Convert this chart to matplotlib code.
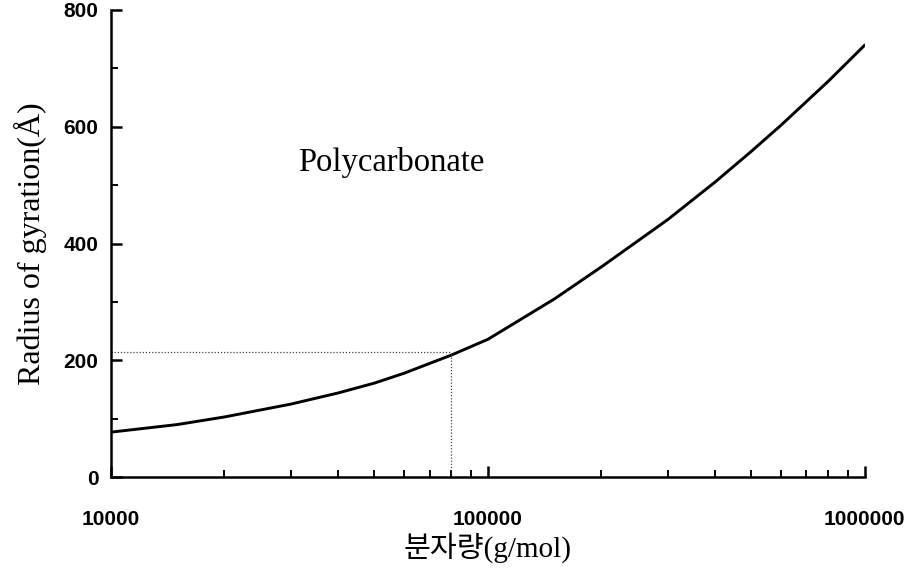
import matplotlib
matplotlib.use('Agg')
import matplotlib.pyplot as plt
from matplotlib.ticker import FixedLocator, LogLocator, NullFormatter, MultipleLocator

# Data
mw = [10000, 15000, 20000, 30000, 40000, 50000, 60000, 80000, 100000,
      150000, 200000, 300000, 400000, 500000, 600000, 800000, 1000000]
rg = [77, 90, 103, 125, 144, 161, 178, 209, 236,
      305, 360, 441, 505, 558, 603, 678, 740]

marker_mw = 80000
marker_rg = 215

x_ticks = [10000, 100000, 1000000]
x_tick_labels = ['10000', '100000', '1000000']
y_ticks = [0, 200, 400, 600, 800]

fig = plt.figure(figsize=(9.23, 5.70), dpi=100)
ax = fig.add_axes([0.1203, 0.163, 0.8167, 0.8195])

ax.plot(mw, rg, color='black', linewidth=2.1, solid_capstyle='round',
        solid_joinstyle='round')

# dotted guide lines to the marked point
ax.plot([mw[0], marker_mw], [marker_rg, marker_rg], color='#444444',
        linestyle=(0, (1, 1.5)), linewidth=0.9)
ax.plot([marker_mw, marker_mw], [0, marker_rg], color='#444444',
        linestyle=(0, (1, 1.5)), linewidth=0.9)

ax.set_xscale('log')
ax.set_xlim(10000, 1000000)
ax.set_ylim(0, 800)

ax.xaxis.set_major_locator(FixedLocator(x_ticks))
ax.set_xticklabels(x_tick_labels)
ax.xaxis.set_minor_locator(LogLocator(base=10, subs=range(2, 10)))
ax.xaxis.set_minor_formatter(NullFormatter())
ax.yaxis.set_major_locator(FixedLocator(y_ticks))
ax.yaxis.set_minor_locator(MultipleLocator(100))

for side in ['top', 'right']:
    ax.spines[side].set_visible(False)
for side in ['left', 'bottom']:
    ax.spines[side].set_linewidth(1.8)

ax.tick_params(axis='both', which='major', direction='in', length=8, width=1.8)
ax.tick_params(axis='both', which='minor', direction='in', length=5, width=1.4)
ax.tick_params(axis='x', which='major', pad=24)
ax.tick_params(axis='y', which='major', pad=9)
for lab in ax.get_xticklabels() + ax.get_yticklabels():
    lab.set_fontfamily('Liberation Sans')
    lab.set_fontsize(15)
    lab.set_fontweight('bold')

ax.set_ylabel('Radius of gyration(Å)', family=['Liberation Serif', 'DejaVu Serif'],
              fontsize=23, labelpad=12)
ax.set_xlabel('분자량(g/mol)', family=['Liberation Serif', 'Noto Sans CJK KR'],
              fontsize=21, labelpad=2)

ax.text(55300, 539, 'Polycarbonate', family='Liberation Serif', fontsize=23.5,
        ha='center', va='center')

fig.savefig('out.png', dpi=100)
